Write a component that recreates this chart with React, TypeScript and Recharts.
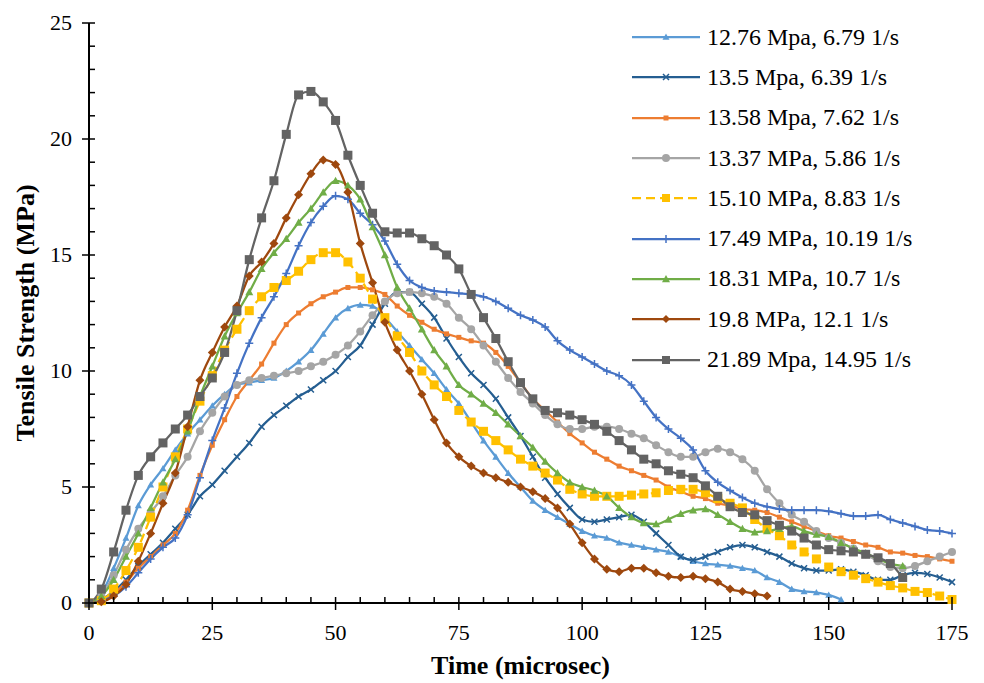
import { LineChart, Line, XAxis, YAxis } from 'recharts';

const TIME = [
  0, 2.5, 5, 7.5, 10, 12.5, 15, 17.5, 20, 22.5, 25, 27.5, 30, 32.5, 35, 37.5, 40, 42.5, 45, 47.5,
  50, 52.5, 55, 57.5, 60, 62.5, 65, 67.5, 70, 72.5, 75, 77.5, 80, 82.5, 85, 87.5, 90, 92.5, 95, 97.5,
  100, 102.5, 105, 107.5, 110, 112.5, 115, 117.5, 120, 122.5, 125, 127.5, 130, 132.5, 135, 137.5,
  140, 142.5, 145, 147.5, 150, 152.5, 155, 157.5, 160, 162.5, 165, 167.5, 170, 172.5, 175,
];

// tensile strength (MPa) sampled every 2.5 microsec
const S1276 = [
  0, 0.4, 1.5, 2.8, 4.2, 5.1, 5.8, 6.6, 7.3, 7.9, 8.5, 9.0, 9.4, 9.5, 9.6, 9.7, 10.0, 10.4, 10.9, 11.6,
  12.3, 12.7, 12.85, 12.8, 12.3, 11.7, 11.1, 10.5, 9.9, 9.2, 8.6, 7.8, 7.0, 6.3, 5.6, 5.0, 4.4, 4.0, 3.7, 3.4,
  3.1, 2.9, 2.8, 2.6, 2.5, 2.4, 2.3, 2.2, 2.0, 1.8, 1.7, 1.65, 1.6, 1.5, 1.4, 1.1, 0.9, 0.6, 0.5, 0.45,
  0.35, 0.15,
];
const S135 = [
  0, 0.15, 0.5, 1.0, 1.6, 2.1, 2.6, 3.2, 3.8, 4.6, 5.1, 5.7, 6.3, 6.9, 7.6, 8.1, 8.5, 8.9, 9.2, 9.6,
  10.0, 10.6, 11.1, 12.0, 12.9, 13.4, 13.4, 12.9, 12.3, 11.4, 10.6, 9.9, 9.4, 8.8, 8.0, 7.2, 6.3, 5.4, 4.7, 4.1,
  3.6, 3.5, 3.6, 3.7, 3.8, 3.5, 3.0, 2.5, 2.0, 1.85, 2.0, 2.2, 2.4, 2.5, 2.4, 2.2, 2.0, 1.7, 1.5, 1.4,
  1.4, 1.45, 1.35, 1.2, 1.0, 1.0, 1.2, 1.3, 1.25, 1.1, 0.9,
];
const S1358 = [
  0, 0.1, 0.4, 0.9, 1.5, 2.0, 2.5, 3.0, 4.0, 5.5, 6.8, 7.9, 8.9, 9.6, 10.3, 11.2, 12.0, 12.5, 12.9, 13.2,
  13.4, 13.6, 13.6, 13.5, 13.3, 12.8, 12.4, 12.1, 11.8, 11.6, 11.45, 11.3, 11.2, 10.8, 10.2, 9.5, 8.8, 8.3, 7.8, 7.3,
  6.9, 6.5, 6.2, 5.9, 5.7, 5.5, 5.3, 5.0, 4.8, 4.6, 4.5, 4.3, 4.2, 4.05, 4.0, 3.9, 3.7, 3.5, 3.3, 3.1,
  2.9, 2.8, 2.65, 2.5, 2.4, 2.2, 2.15, 2.05, 2.0, 1.9, 1.8,
];
const S1337 = [
  0, 0.3, 1.2, 2.3, 3.2, 3.9, 4.6, 5.5, 6.3, 7.4, 8.2, 8.9, 9.4, 9.6, 9.7, 9.8, 9.9, 10.0, 10.2, 10.4,
  10.7, 11.1, 11.7, 12.4, 13.0, 13.35, 13.4, 13.35, 13.2, 12.9, 12.3, 11.8, 11.1, 10.4, 9.7, 9.1, 8.6, 8.1, 7.7, 7.5,
  7.5, 7.6, 7.6, 7.5, 7.3, 7.1, 6.8, 6.5, 6.3, 6.3, 6.5, 6.65, 6.5, 6.2, 5.7, 4.9, 4.3, 3.8, 3.5, 3.1,
  2.8, 2.6, 2.35, 2.1, 1.8, 1.55, 1.5, 1.6, 1.8, 2.0, 2.2,
];
const S1510 = [
  0, 0.1, 0.6, 1.4, 2.4, 3.7, 5.0, 6.3, 7.5, 8.7, 9.8, 10.9, 11.8, 12.6, 13.2, 13.6, 13.9, 14.3, 14.8, 15.1,
  15.1, 14.7, 14.0, 13.1, 12.3, 11.5, 10.8, 10.0, 9.4, 8.9, 8.3, 7.8, 7.4, 7.0, 6.6, 6.2, 5.9, 5.6, 5.3, 4.9,
  4.7, 4.6, 4.6, 4.6, 4.65, 4.7, 4.75, 4.85, 4.9, 4.9, 4.75, 4.5, 4.3, 4.1, 3.6, 3.2, 2.9, 2.5, 2.2, 1.9,
  1.55, 1.35, 1.2, 1.05, 0.9, 0.75, 0.65, 0.5, 0.45, 0.3, 0.15,
];
const S1749 = [
  0, 0.1, 0.3, 0.7, 1.3, 1.9, 2.4, 2.8, 3.8, 5.4, 7.0, 8.4, 9.9, 11.2, 12.3, 13.2, 14.2, 15.4, 16.4, 17.1,
  17.55, 17.4, 16.8, 16.3, 15.6, 14.6, 13.9, 13.6, 13.45, 13.4, 13.35, 13.3, 13.2, 13.0, 12.7, 12.4, 12.2, 11.9, 11.3, 10.9,
  10.6, 10.3, 10.0, 9.8, 9.4, 8.7, 8.0, 7.5, 7.1, 6.6, 5.7, 5.2, 4.85, 4.55, 4.3, 4.15, 4.05, 4.0, 4.0, 4.0,
  3.95, 3.85, 3.75, 3.75, 3.8, 3.6, 3.45, 3.3, 3.15, 3.1, 3.0,
];
const S1831 = [
  0, 0.3, 1.0, 2.0, 3.0, 4.1, 5.2, 6.2, 7.4, 8.9, 10.2, 11.5, 12.5, 13.4, 14.4, 15.1, 15.7, 16.4, 17.0, 17.7,
  18.2, 18.0, 17.4, 16.2, 15.0, 13.6, 12.7, 11.8, 10.9, 10.2, 9.4, 9.0, 8.6, 8.2, 7.7, 7.2, 6.7, 6.1, 5.6, 5.2,
  5.0, 4.85, 4.6, 4.1, 3.7, 3.45, 3.4, 3.6, 3.85, 4.0, 4.05, 3.8, 3.5, 3.2, 3.05, 3.1, 3.2, 3.3, 3.1, 2.95,
  2.85, 2.6, 2.35, 2.15, 1.9, 1.7, 1.6,
];
const S198 = [
  0, 0.05, 0.3, 0.8, 1.8, 3.0, 4.3, 5.6, 7.6, 9.6, 10.8, 11.9, 12.8, 14.1, 14.7, 15.5, 16.6, 17.6, 18.5, 19.1,
  18.9, 17.7, 15.5, 13.8, 12.1, 10.9, 10.0, 9.0, 7.9, 6.9, 6.3, 5.9, 5.6, 5.4, 5.2, 5.0, 4.8, 4.5, 4.1, 3.4,
  2.6, 1.9, 1.45, 1.35, 1.5, 1.5, 1.3, 1.15, 1.1, 1.15, 1.05, 0.9, 0.6, 0.5, 0.4, 0.3,
];
const S2189 = [
  0, 0.6, 2.2, 4.0, 5.5, 6.3, 6.9, 7.5, 8.1, 8.9, 9.7, 10.8, 12.6, 14.8, 16.6, 18.2, 20.2, 21.9, 22.05, 21.6,
  20.8, 19.3, 18.0, 16.8, 16.0, 15.95, 15.95, 15.7, 15.4, 15.0, 14.4, 13.3, 12.3, 11.4, 10.4, 9.5, 8.8, 8.3, 8.2, 8.1,
  7.9, 7.7, 7.4, 7.0, 6.6, 6.2, 6.0, 5.7, 5.55, 5.4, 5.05, 4.6, 4.15, 3.9, 3.8, 3.55, 3.35, 3.1, 2.8, 2.5,
  2.3, 2.25, 2.2, 2.1, 1.95, 1.7, 1.1,
];

const X_TICKS = [
  0, 5, 10, 15, 20, 25, 30, 35, 40, 45, 50, 55, 60, 65, 70, 75, 80, 85, 90, 95,
  100, 105, 110, 115, 120, 125, 130, 135, 140, 145, 150, 155, 160, 165, 170, 175,
];
const Y_TICKS = [0, 1, 2, 3, 4, 5, 6, 7, 8, 9, 10, 11, 12, 13, 14, 15, 16, 17, 18, 19, 20, 21, 22, 23, 24, 25];

const series = [
  { name: '12.76 Mpa, 6.79 1/s', values: S1276, color: '#5B9BD5', shape: 'triangle', r: 3.5 },
  { name: '13.5 Mpa, 6.39 1/s', values: S135, color: '#255E91', shape: 'x', r: 3 },
  { name: '13.58 Mpa, 7.62 1/s', values: S1358, color: '#ED7D31', shape: 'square', r: 2.5 },
  { name: '13.37 MPa, 5.86 1/s', values: S1337, color: '#A5A5A5', shape: 'circle', r: 4 },
  { name: '15.10 MPa, 8.83 1/s', values: S1510, color: '#FFC000', shape: 'square', r: 4.5, dash: '9 5' },
  { name: '17.49 MPa, 10.19 1/s', values: S1749, color: '#4472C4', shape: 'plus', r: 4 },
  { name: '18.31 MPa, 10.7 1/s', values: S1831, color: '#70AD47', shape: 'triangle', r: 4 },
  { name: '19.8 MPa, 12.1 1/s', values: S198, color: '#9E480E', shape: 'diamond', r: 4.5 },
  { name: '21.89 Mpa, 14.95 1/s', values: S2189, color: '#636363', shape: 'square', r: 4.5 },
];

const FONT = "'Liberation Serif', Tinos, 'Times New Roman', 'DejaVu Serif', serif";

function Marker({ shape, x, y, r, color }: any) {
  switch (shape) {
    case 'triangle':
      return <polygon points={`${x},${y - r} ${x - r},${y + r * 0.8} ${x + r},${y + r * 0.8}`} fill={color} />;
    case 'x':
      return (
        <path d={`M${x - r},${y - r}L${x + r},${y + r}M${x - r},${y + r}L${x + r},${y - r}`} stroke={color} strokeWidth={1.5} />
      );
    case 'plus':
      return <path d={`M${x - r},${y}L${x + r},${y}M${x},${y - r}L${x},${y + r}`} stroke={color} strokeWidth={1.5} />;
    case 'circle':
      return <circle cx={x} cy={y} r={r} fill={color} />;
    case 'diamond':
      return <polygon points={`${x},${y - r} ${x + r},${y} ${x},${y + r} ${x - r},${y}`} fill={color} />;
    default:
      return <rect x={x - r} y={y - r} width={r * 2} height={r * 2} fill={color} />;
  }
}

const makeDot = (s: any) => (props: any) => {
  const { cx, cy, index } = props;
  if (cx == null || cy == null) return <g key={`e${index}`} />;
  return (
    <g key={`m${index}`}>
      <Marker shape={s.shape} x={cx} y={cy} r={s.r} color={s.color} />
    </g>
  );
};

function XTick({ x, y, payload }: any) {
  const major = payload.value % 25 === 0;
  return (
    <g>
      <line x1={x} x2={x} y1={y - 6} y2={major ? y + 7 : y} stroke="#000" strokeWidth={1.5} />
      {major && (
        <text x={x} y={y + 37} textAnchor="middle" fontSize={22} style={{ fontFamily: FONT }} fill="#000">
          {payload.value}
        </text>
      )}
    </g>
  );
}

function YTick({ x, y, payload }: any) {
  const major = payload.value % 5 === 0;
  return (
    <g>
      <line x1={major ? x - 7 : x} x2={x + 6} y1={y} y2={y} stroke="#000" strokeWidth={1.5} />
      {major && (
        <text x={x - 17} y={y + 7} textAnchor="end" fontSize={22} style={{ fontFamily: FONT }} fill="#000">
          {payload.value}
        </text>
      )}
    </g>
  );
}

function LegendBox() {
  return (
    <div style={{ position: 'absolute', left: 630, top: 17, fontFamily: FONT, fontSize: 24, color: '#000' }}>
      {series.map((s) => (
        <div key={s.name} style={{ height: 40.3, display: 'flex', alignItems: 'center', whiteSpace: 'nowrap' }}>
          <svg width={72} height={20} style={{ display: 'block' }}>
            <line x1={2} x2={70} y1={10} y2={10} stroke={s.color} strokeWidth={2.25} strokeDasharray={s.dash} />
            <Marker shape={s.shape} x={36} y={10} r={Math.min(s.r, 4)} color={s.color} />
          </svg>
          <span style={{ marginLeft: 5 }}>{s.name}</span>
        </div>
      ))}
    </div>
  );
}

export default function App() {
  return (
    <div style={{ position: 'absolute', left: 0, top: 0, width: 984, height: 683, background: '#fff', fontFamily: FONT }}>
      <LineChart width={984} height={683} margin={{ top: 23, right: 32, bottom: 0, left: 0 }} style={{ fontFamily: FONT }}>
        <XAxis
          dataKey="t"
          type="number"
          domain={[0, 175]}
          ticks={X_TICKS}
          interval={0}
          height={80}
          tickSize={0}
          tickMargin={0}
          tickLine={false}
          axisLine={{ stroke: '#000', strokeWidth: 2 }}
          tick={<XTick />}
          label={{
            content: (p: any) => {
              const vb = p.viewBox || { x: 89, width: 863, y: 603 };
              return (
                <text x={vb.x + vb.width / 2} y={vb.y + 71} textAnchor="middle" fontSize={26} fontWeight="bold" style={{ fontFamily: FONT }} fill="#000">
                  Time (microsec)
                </text>
              );
            },
          }}
        />
        <YAxis
          type="number"
          domain={[0, 25]}
          ticks={Y_TICKS}
          interval={0}
          width={89}
          tickSize={0}
          tickMargin={0}
          tickLine={false}
          axisLine={{ stroke: '#000', strokeWidth: 2 }}
          tick={<YTick />}
          label={{
            content: () => (
              <text transform="translate(34,313) rotate(-90)" textAnchor="middle" fontSize={26} fontWeight="bold" style={{ fontFamily: FONT }} fill="#000">
                Tensile Strength (MPa)
              </text>
            ),
          }}
        />
        {series.map((s) => (
          <Line
            key={s.name}
            data={s.values.map((v, i) => ({ t: TIME[i], v }))}
            dataKey="v"
            name={s.name}
            type="monotone"
            stroke={s.color}
            strokeWidth={2.25}
            strokeDasharray={s.dash}
            dot={makeDot(s)}
            activeDot={false}
            isAnimationActive={false}
          />
        ))}
      </LineChart>
      <LegendBox />
    </div>
  );
}
